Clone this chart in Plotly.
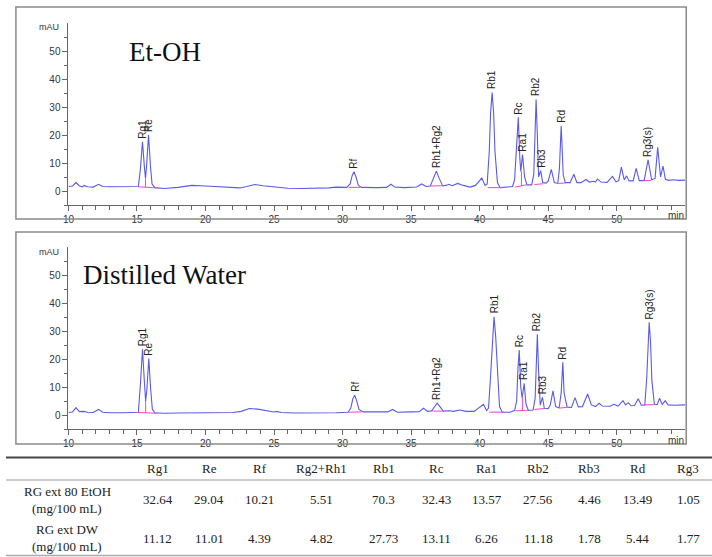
import plotly.graph_objects as go

# ---------------- data ----------------
# Et-OH chromatogram (time in min, signal in mAU)
etoh_t = [10.0, 10.3, 10.55, 10.8, 11.0, 11.15, 11.4, 11.8, 12.2, 12.5, 13.0, 14.0, 14.9, 15.1,
          15.25, 15.4, 15.55, 15.62, 15.7, 15.84, 15.98, 16.1, 16.3, 17.0, 18.0, 19.0, 20.0, 21.0,
          22.0, 22.5, 23.0, 23.6, 24.2, 25.0, 26.0, 27.0, 28.0, 29.0, 29.5, 30.3, 30.55, 30.7,
          30.83, 30.98, 31.15, 31.4, 32.5, 33.2, 33.53, 33.8, 34.5, 35.4, 35.77, 36.1, 36.4, 36.6,
          36.84, 37.05, 37.3, 37.55, 37.75, 38.0, 38.4, 38.8, 39.3, 39.7, 40.16, 40.4, 40.55, 40.7,
          40.8, 40.91, 41.02, 41.12, 41.3, 41.5, 42.0, 42.4, 42.55, 42.7, 42.82, 42.93, 43.0, 43.13,
          43.28, 43.45, 43.8, 43.95, 44.03, 44.12, 44.21, 44.3, 44.45, 44.6, 44.85, 45.0, 45.23,
          45.45, 45.7, 45.82, 45.95, 46.04, 46.1, 46.25, 46.6, 46.87, 47.1, 47.4, 47.76, 48.0,
          48.31, 48.45, 48.6, 48.85, 49.3, 49.69, 49.95, 50.15, 50.34, 50.55, 50.72, 50.9, 51.2,
          51.42, 51.65, 52.0, 52.29, 52.55, 52.8, 52.99, 53.2, 53.38, 53.55, 53.8, 54.15, 54.5, 55.0]
etoh_v = [1.6, 1.8, 3.0, 1.8, 1.5, 2.0, 1.5, 1.4, 2.4, 1.6, 1.5, 1.6, 1.5, 1.6,
          8.0, 17.6, 8.0, 4.5, 9.0, 20.0, 9.0, 2.5, 1.2, 0.9, 1.3, 2.0, 1.8, 1.6,
          1.2, 1.1, 1.6, 2.3, 1.9, 1.5, 1.0, 0.9, 0.9, 1.1, 1.4, 1.3, 2.5, 5.5,
          6.9, 5.0, 2.0, 1.3, 1.2, 1.3, 2.4, 1.4, 1.2, 1.4, 2.5, 1.6, 1.8, 4.5,
          7.1, 4.5, 1.9, 2.0, 2.4, 1.9, 2.7, 2.0, 1.4, 2.0, 4.6, 2.0, 2.5, 14.0,
          28.0, 35.2, 28.0, 14.0, 3.0, 1.2, 1.3, 1.6, 4.0, 18.0, 26.3, 12.0, 7.0, 13.0,
          5.0, 2.2, 2.2, 6.0, 22.0, 32.7, 20.0, 5.0, 7.3, 3.0, 2.8, 3.5, 7.7,
          3.0, 2.7, 8.0, 23.2, 10.0, 5.7, 3.0, 3.0, 6.0, 3.0, 3.0, 4.1, 3.2,
          3.5, 3.2, 4.3, 3.2, 3.1, 5.2, 3.3, 3.7, 8.5, 4.0, 5.4, 3.6, 3.6,
          8.1, 3.7, 3.7, 11.1, 4.0, 4.5, 15.6, 5.0, 8.9, 4.2, 3.8, 4.0, 3.8, 3.9]

# Distilled water chromatogram
dw_t = [10.0, 10.3, 10.55, 10.8, 11.1, 11.4, 11.8, 12.2, 12.5, 13.0, 14.0, 14.9, 15.1, 15.25,
        15.4, 15.55, 15.63, 15.72, 15.86, 16.0, 16.12, 16.3, 17.0, 18.0, 19.0, 20.0, 21.0, 22.0,
        22.6, 23.2, 23.8, 24.5, 25.0, 25.2, 25.5, 26.5, 28.0, 29.5, 30.4, 30.6, 30.75, 30.88,
        31.02, 31.2, 31.5, 32.5, 33.3, 33.65, 34.0, 35.0, 35.6, 35.9, 36.2, 36.5, 36.7, 36.9,
        37.1, 37.35, 37.8, 38.1, 38.55, 39.0, 39.6, 39.95, 40.28, 40.5, 40.65, 40.8, 40.93,
        41.05, 41.17, 41.3, 41.45, 41.65, 42.2, 42.55, 42.7, 42.8, 42.89, 43.0, 43.1, 43.25,
        43.38, 43.55, 43.9, 44.05, 44.13, 44.21, 44.3, 44.42, 44.58, 44.72, 45.0, 45.15, 45.35,
        45.55, 45.8, 45.95, 46.07, 46.16, 46.24, 46.38, 46.7, 46.96, 47.2, 47.5, 47.88, 48.15,
        48.45, 48.72, 48.95, 49.5, 49.8, 50.1, 50.46, 50.65, 50.84, 51.05, 51.3, 51.57, 51.8,
        52.05, 52.2, 52.29, 52.37, 52.47, 52.57, 52.75, 52.95, 53.13, 53.32, 53.54, 53.75,
        54.2, 55.0]
dw_v = [0.9, 1.1, 2.6, 1.2, 1.3, 1.0, 0.9, 2.0, 1.0, 0.8, 0.8, 0.9, 1.0, 11.0,
        23.5, 11.0, 5.0, 9.0, 20.2, 9.0, 2.0, 0.8, 0.6, 0.7, 0.8, 0.8, 0.8, 0.9,
        1.3, 2.3, 2.1, 1.5, 1.1, 1.3, 0.9, 0.7, 0.7, 0.8, 1.0, 2.5, 5.8, 7.1,
        5.2, 2.0, 1.1, 1.1, 1.1, 2.0, 1.0, 1.1, 1.2, 2.4, 1.3, 1.5, 3.0, 4.2,
        3.0, 1.4, 1.5, 1.3, 1.8, 1.3, 1.3, 2.5, 3.8, 1.6, 2.5, 14.0, 28.0,
        35.1, 28.0, 14.0, 3.0, 1.0, 1.0, 1.6, 5.0, 17.0, 23.2, 10.0, 6.0, 11.3,
        4.0, 1.6, 1.8, 6.0, 20.0, 28.8, 16.0, 3.5, 6.3, 2.4, 2.3, 3.5, 8.6,
        3.0, 2.5, 8.0, 18.8, 8.0, 6.0, 2.8, 2.7, 6.2, 2.9, 3.0, 7.5, 3.6,
        3.0, 4.2, 3.2, 3.1, 3.8, 3.2, 5.1, 3.6, 4.4, 3.3, 3.4, 5.8, 3.5,
        3.6, 14.0, 28.0, 33.1, 26.0, 12.0, 3.8, 3.7, 6.0, 3.8, 5.1, 3.6,
        3.5, 3.6]

# Peak labels (name, retention time, apex height)
etoh_peak_names = ["Rg1", "Re", "Rf", "Rh1+Rg2", "Rb1", "Rc", "Ra1", "Rb2", "Rb3", "Rd", "Rg3(s)"]
etoh_peak_t = [15.4, 15.84, 30.83, 36.84, 40.91, 42.82, 43.13, 44.12, 44.45, 45.95, 52.29]
etoh_peak_v = [17.6, 20.0, 6.9, 7.1, 35.2, 26.3, 13.0, 32.7, 7.3, 23.2, 11.1]

dw_peak_names = ["Rg1", "Re", "Rf", "Rh1+Rg2", "Rb1", "Rc", "Ra1", "Rb2", "Rb3", "Rd", "Rg3(s)"]
dw_peak_t = [15.4, 15.86, 30.88, 36.9, 41.05, 42.89, 43.25, 44.21, 44.58, 46.07, 52.37]
dw_peak_v = [23.5, 20.2, 7.1, 4.2, 35.1, 23.2, 11.3, 28.8, 6.3, 18.8, 33.1]

# integration baselines (start t, start v, end t, end v)
etoh_base = [(15.1, 1.5, 16.4, 1.1), (30.45, 1.3, 31.3, 1.3), (36.4, 1.8, 37.4, 1.9),
             (40.6, 1.2, 41.7, 1.2), (42.6, 1.4, 43.4, 2.2), (44.0, 2.3, 44.65, 2.6),
             (45.75, 2.7, 46.3, 2.9), (52.0, 3.7, 52.5, 3.8)]
dw_base = [(15.1, 0.9, 16.5, 0.6), (30.45, 1.0, 31.4, 1.1), (36.45, 1.4, 37.4, 1.4),
           (40.7, 1.0, 41.8, 1.0), (42.6, 1.5, 43.5, 1.7), (44.0, 2.0, 44.7, 2.3),
           (45.85, 2.5, 46.35, 2.7), (52.0, 3.6, 52.7, 3.7)]
etoh_drop = [(15.62, 1.4, 4.5), (43.05, 1.8, 7.0)]
dw_drop = [(15.63, 0.8, 5.0), (43.12, 1.6, 6.0)]

# table
table_cols = ["Rg1", "Re", "Rf", "Rg2+Rh1", "Rb1", "Rc", "Ra1", "Rb2", "Rb3", "Rd", "Rg3"]
row_labels = [["RG ext 80 EtOH", "(mg/100 mL)"], ["RG ext DW", "(mg/100 mL)"]]
etoh_content = ["32.64", "29.04", "10.21", "5.51", "70.3", "32.43", "13.57", "27.56", "4.46", "13.49", "1.05"]
dw_content = ["11.12", "11.01", "4.39", "4.82", "27.73", "13.11", "6.26", "11.18", "1.78", "5.44", "1.77"]

x_major = [10, 15, 20, 25, 30, 35, 40, 45, 50]
x_minor = [v for v in range(11, 55) if v % 5 != 0]
y_major = [0, 10, 20, 30, 40, 50]
y_minor = [-5, 5, 15, 25, 35, 45, 55]

# ---------------- layout helpers ----------------
W, H = 712, 557
def px(x):
    return x / W
def py(y):
    return 1 - y / H

LINE = "#5a5ae8"
PINK = "#ff40c0"
SERIF = "Liberation Serif, Times New Roman, serif"
SANS = "Arial, Liberation Sans, sans-serif"

fig = go.Figure()

def add_panel(t, v, base, drops, names, pt, pv, xa, ya):
    fig.add_trace(go.Scatter(x=t, y=v, mode="lines", line=dict(color=LINE, width=1.1),
                             xaxis=xa, yaxis=ya, hoverinfo="skip", showlegend=False))
    bx, by = [], []
    for (t0, v0, t1, v1) in base:
        bx += [t0, t1, None]
        by += [v0, v1, None]
    for (tt, v0, v1) in drops:
        bx += [tt, tt, None]
        by += [v0, v1, None]
    fig.add_trace(go.Scatter(x=bx, y=by, mode="lines", line=dict(color=PINK, width=1),
                             xaxis=xa, yaxis=ya, hoverinfo="skip", showlegend=False))
    xref = "x" if xa == "x" else "x2"
    yref = "y" if ya == "y" else "y2"
    for n, tt, vv in zip(names, pt, pv):
        fig.add_annotation(x=tt, y=vv, xref=xref, yref=yref, text=n, showarrow=False,
                           textangle=-90, xanchor="center", yanchor="bottom", yshift=1,
                           font=dict(family=SANS, size=10, color="#222"))

add_panel(etoh_t, etoh_v, etoh_base, etoh_drop, etoh_peak_names, etoh_peak_t, etoh_peak_v, "x", "y")
add_panel(dw_t, dw_v, dw_base, dw_drop, dw_peak_names, dw_peak_t, dw_peak_v, "x2", "y2")

x_dom = [px(63), px(685)]
axis_common = dict(showgrid=False, zeroline=False, showline=True, linecolor="#666", linewidth=1,
                   ticks="outside", ticklen=5, tickcolor="#666",
                   tickfont=dict(family=SANS, size=10, color="#333"))
xax = dict(axis_common, range=[10, 55], tickmode="array", tickvals=x_major,
           minor=dict(tickvals=x_minor, ticks="outside", ticklen=4, tickcolor="#666"))
yax = dict(axis_common, range=[-5, 60], tickmode="array", tickvals=y_major,
           minor=dict(tickvals=y_minor, ticks="outside", ticklen=3, tickcolor="#666"))

fig.update_layout(
    width=W, height=H, autosize=False,
    margin=dict(l=0, r=0, t=0, b=0),
    paper_bgcolor="white", plot_bgcolor="white",
    xaxis=dict(xax, domain=x_dom, anchor="y"),
    yaxis=dict(yax, domain=[py(205), py(23)], anchor="x"),
    xaxis2=dict(xax, domain=x_dom, anchor="y2"),
    yaxis2=dict(yax, domain=[py(429), py(247)], anchor="x2"),
)

shapes = []
# panel frames
for (y0, y1) in [(7, 219), (232, 444)]:
    shapes.append(dict(type="rect", xref="paper", yref="paper", x0=px(10), x1=px(686),
                       y0=py(y1), y1=py(y0), line=dict(color="#8a8a8a", width=1.5)))
# table rules
shapes.append(dict(type="line", xref="paper", yref="paper", x0=0, x1=1, y0=py(457.5), y1=py(457.5),
                   line=dict(color="#444", width=2)))
shapes.append(dict(type="line", xref="paper", yref="paper", x0=0, x1=1, y0=py(480), y1=py(480),
                   line=dict(color="#999", width=1)))
shapes.append(dict(type="line", xref="paper", yref="paper", x0=0, x1=1, y0=py(555.5), y1=py(555.5),
                   line=dict(color="#aaa", width=1.5)))
fig.update_layout(shapes=shapes)

def note(xp, yp, text, font, xanchor="center"):
    fig.add_annotation(x=px(xp), y=py(yp), xref="paper", yref="paper", text=text,
                       showarrow=False, xanchor=xanchor, yanchor="middle", font=font)

# panel titles and axis unit labels
TITLE = dict(family=SERIF, size=27, color="#111")
note(160, 52, "Et-OH", TITLE)
note(160, 275, "Distilled Water", TITLE)
for yy in [27, 252]:
    note(55, yy, "mAU", dict(family=SANS, size=9, color="#333"), xanchor="right")
for yy in [215, 440]:
    note(686, yy, "min", dict(family=SANS, size=10, color="#333"), xanchor="right")

# table text
col_x = [153, 205, 256, 318, 381, 434, 485, 537, 588, 637, 688]
TFONT = dict(family=SERIF, size=13, color="#222")
for name, cx in zip(table_cols, col_x):
    note(cx, 468, name, TFONT)
for vals, yv, lab, ys in [(etoh_content, 499, row_labels[0], (491, 508)),
                          (dw_content, 538, row_labels[1], (529, 546))]:
    for val, cx in zip(vals, col_x):
        note(cx, yv, val, TFONT)
    for txt, yy in zip(lab, ys):
        note(62, yy, txt, TFONT)

fig.write_html("out.html")
